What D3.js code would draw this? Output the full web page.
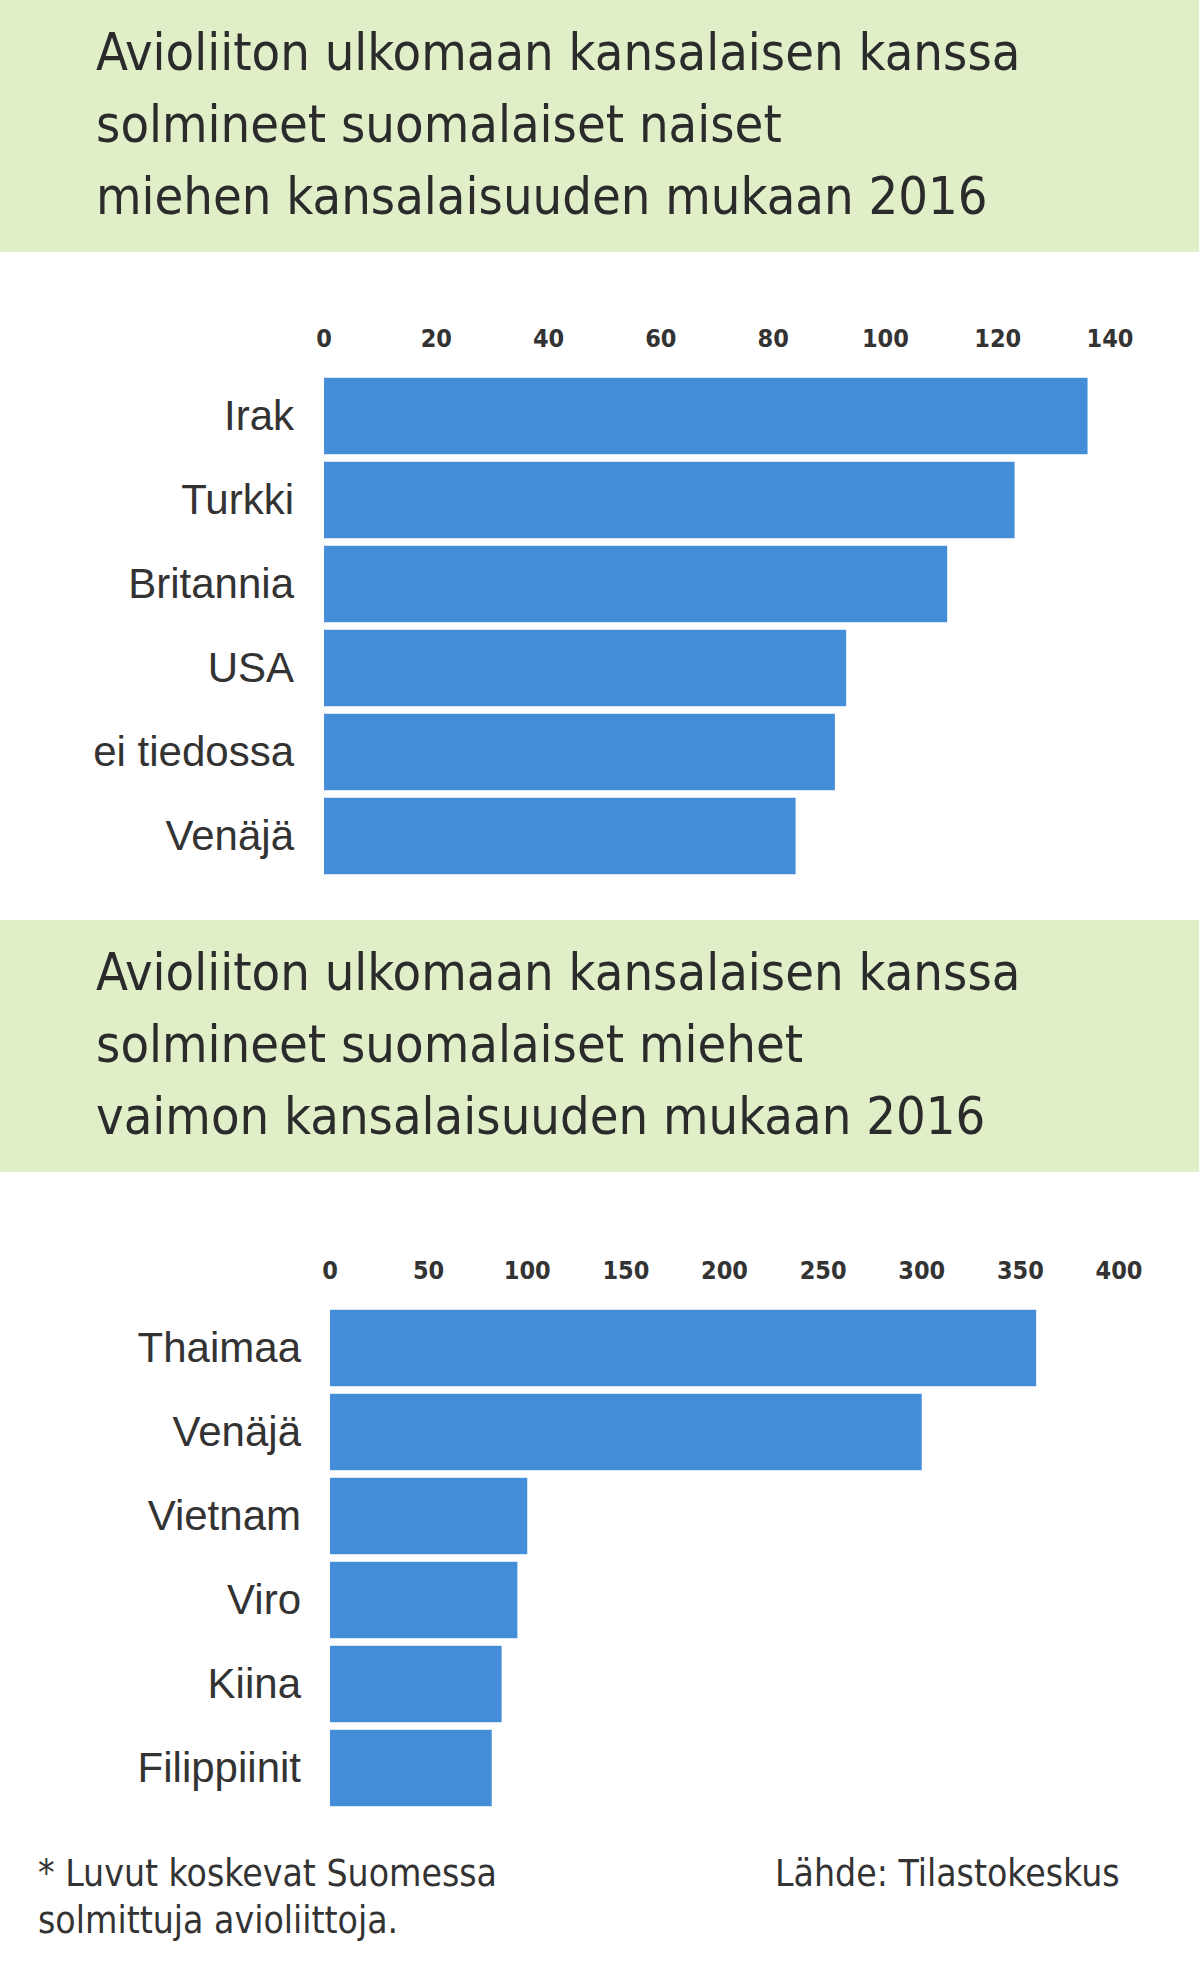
<!DOCTYPE html>
<html><head><meta charset="utf-8">
<script src="https://cdn.jsdelivr.net/npm/d3@7"></script>
<style>body{margin:0;background:#fff}</style>
</head><body>
<div id="chart"></div>
<script>
const cats1 = ["Irak", "Turkki", "Britannia", "USA", "ei tiedossa", "Venäjä"];
const vals1 = [136, 123, 111, 93, 91, 84];
const ticks1 = [0, 20, 40, 60, 80, 100, 120, 140];
const title1 = ["Avioliiton ulkomaan kansalaisen kanssa", "solmineet suomalaiset naiset", "miehen kansalaisuuden mukaan 2016"];

const cats2 = ["Thaimaa", "Venäjä", "Vietnam", "Viro", "Kiina", "Filippiinit"];
const vals2 = [358, 300, 100, 95, 87, 82];
const ticks2 = [0, 50, 100, 150, 200, 250, 300, 350, 400];
const title2 = ["Avioliiton ulkomaan kansalaisen kanssa", "solmineet suomalaiset miehet", "vaimon kansalaisuuden mukaan 2016"];

const W = 1199, H = 1986;
const narrow = "'Liberation Sans Narrow','Arial Narrow','DejaVu Sans Condensed',sans-serif";
const bar = "#448ed9";

const svg = d3.select("#chart").append("svg").attr("width", W).attr("height", H);

function header(y0, lines) {
  svg.append("rect").attr("x", 0).attr("y", y0).attr("width", W).attr("height", 252).attr("fill", "#e1efc9");
  svg.selectAll(null).data(lines).enter().append("text")
    .attr("x", 96).attr("y", (d, i) => y0 + 70 + i * 72)
    .attr("font-family", narrow).attr("font-size", 52).attr("fill", "#2b2b2b")
    .text(d => d);
}

function chart(top, x0, x1, labelX, cats, vals, ticks) {
  const x = d3.scaleLinear().domain([0, ticks[ticks.length - 1]]).range([x0, x1]);
  const y = d3.scaleBand().domain(cats).range([top + 27, top + 27 + 6 * 84]).paddingInner(0.09).paddingOuter(0.045);
  const g = svg.append("g");
  g.selectAll(".tick").data(ticks).enter().append("text")
    .attr("x", d => x(d)).attr("y", top).attr("text-anchor", "middle")
    .attr("font-family", narrow).attr("font-weight", "bold").attr("font-size", 25).attr("fill", "#333")
    .text(d => d);
  g.selectAll("rect").data(vals).enter().append("rect")
    .attr("x", x(0)).attr("y", (d, i) => y(cats[i]))
    .attr("width", d => x(d) - x(0)).attr("height", y.bandwidth()).attr("fill", bar);
  g.selectAll(".lab").data(cats).enter().append("text")
    .attr("x", labelX).attr("y", d => y(d) + y.bandwidth() / 2 + 14).attr("text-anchor", "end")
    .attr("font-family", "'Liberation Sans',Arial,sans-serif").attr("font-size", 42).attr("fill", "#333")
    .text(d => d);
}

header(0, title1);
chart(347, 324, 1110, 294, cats1, vals1, ticks1);
header(920, title2);
chart(1279, 330, 1119, 301, cats2, vals2, ticks2);

svg.selectAll(".foot").data(["* Luvut koskevat Suomessa", "solmittuja avioliittoja."]).enter().append("text")
  .attr("x", 38).attr("y", (d, i) => 1886 + i * 47)
  .attr("font-family", narrow).attr("font-size", 37).attr("fill", "#333").text(d => d);
svg.append("text").attr("x", 775).attr("y", 1886)
  .attr("font-family", narrow).attr("font-size", 37).attr("fill", "#333").text("Lähde: Tilastokeskus");
</script>
</body></html>
